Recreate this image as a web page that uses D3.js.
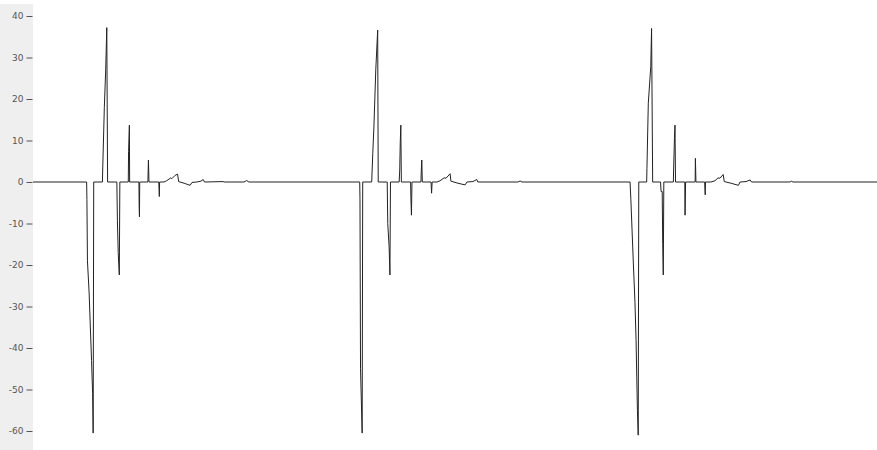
<!DOCTYPE html>
<html>
<head>
<meta charset="utf-8">
<script src="https://cdn.jsdelivr.net/npm/d3@7"></script>
<style>
  body { margin: 0; background: #fff; }
  .tick text { font-family: "DejaVu Sans", sans-serif; font-size: 9px; fill: #555; }
  .tick line { stroke: #555; }
</style>
</head>
<body>
<div id="chart"></div>
<script>
// signal, time in ms, amplitude in the axis units
var yTicks = [40, 30, 20, 10, 0, -10, -20, -30, -40, -50, -60];

var startTimes = [0, 197];
var startValues = [0, 0];

// first burst
var burst1Times = [198, 200, 206, 215, 219, 221, 223,
  255, 256, 262, 267, 271, 274,
  308, 310, 313, 317, 319,
  350, 351, 354, 355,
  389, 390, 391, 392,
  422, 424, 426,
  462, 464, 465,
  481, 491, 506, 510, 522, 531, 535, 555, 577, 584, 602, 617, 625, 630, 698, 702, 775, 785, 793];
var burst1Values = [-4.2, -19, -26.5, -43, -51, -60.5, 0,
  0, 2.9, 18, 27, 37.2, 0,
  0, -9.2, -17, -22.4, 0,
  0, 7.3, 13.7, 0,
  0, -6, -8.4, 0,
  0, 5.3, 0,
  0, -3.5, 0,
  0, 0.3, 1.0, 0.8, 1.6, 1.9, 0.1, -0.3, -0.8, -0.1, 0, 0.2, 0.6, 0, 0.1, 0, 0, 0.35, 0];

// second burst
var burst2Times = [1200, 1201, 1203, 1209, 1211,
  1244, 1248, 1252, 1259, 1266, 1268,
  1301, 1303, 1308, 1311, 1313,
  1345, 1347, 1349, 1351, 1353,
  1387, 1388, 1390, 1392,
  1425, 1426, 1428, 1430,
  1462, 1464, 1466,
  1484, 1495, 1510, 1517, 1532, 1535, 1561, 1587, 1594, 1616, 1630, 1634, 1781, 1789, 1796];
var burst2Values = [0, -4, -45, -60.5, 0,
  0, 6.9, 13, 27, 36.6, 0,
  0, -10, -15.6, -22.4, 0,
  0, 2.9, 9.7, 13.7, 0,
  0, -4, -8, 0,
  0, 2.5, 5.3, 0,
  0, -2.7, 0,
  0, 0.3, 1.0, 0.9, 2.0, 0.2, -0.3, -0.7, 0, 0.1, 0.6, 0, 0, 0.25, 0];

// third burst, running on to the right edge
var burst3Times = [2193, 2196, 2205, 2211, 2215, 2220, 2223, 2225,
  2254, 2255, 2260, 2269, 2272, 2276,
  2305, 2307, 2311, 2313, 2315, 2317,
  2352, 2353, 2356, 2358, 2360,
  2394, 2395, 2397,
  2432, 2433, 2435,
  2467, 2469, 2470,
  2490, 2505, 2516, 2523, 2535, 2539, 2564, 2591, 2597, 2619, 2634, 2639, 2780, 2787, 2791, 3100];
var burst3Values = [0, -4.3, -19.5, -29, -38, -55, -61, 0,
  0, 3.3, 19, 27.8, 37, 0,
  0, -2.3, -2.3, -15, -22.4, 0,
  0, 2.9, 10.5, 13.7, 0,
  0, -8, 0,
  0, 5.7, 0,
  0, -3.1, 0,
  0, 0.3, 1.0, 0.9, 1.8, 0.1, -0.3, -0.8, 0, 0.1, 0.5, 0, 0, 0.2, 0, 0];

var svgWidth = 877;
var svgHeight = 450;
var stripWidth = 33;

var times = [].concat(startTimes, burst1Times, burst2Times, burst3Times);
var values = [].concat(startValues, burst1Values, burst2Values, burst3Values);
var signal = times.map(function(t, i) { return { t: t, v: values[i] }; });

var svg = d3.select("#chart")
  .append("svg")
  .attr("width", svgWidth)
  .attr("height", svgHeight);

// grey band behind the axis
svg.append("rect")
  .attr("x", 0)
  .attr("y", 4)
  .attr("width", stripWidth)
  .attr("height", svgHeight - 4)
  .attr("fill", "#efefef");

var xScale = d3.scaleLinear()
  .domain([0, 3100])
  .range([stripWidth, svgWidth]);

var yScale = d3.scaleLinear()
  .domain([-60, 40])
  .range([431, 16]);

var leftAxis = d3.axisLeft(yScale)
  .tickValues(yTicks)
  .tickFormat(d => String(d))
  .tickSize(6)
  .tickPadding(3);

svg.append("g")
  .attr("transform", `translate(${stripWidth - 0.5}, 0)`)
  .call(leftAxis)
  .call(g => g.select(".domain").remove());

var line = d3.line()
  .x(d => xScale(d.t))
  .y(d => yScale(d.v));

svg.append("path")
  .datum(signal)
  .attr("fill", "none")
  .attr("stroke", "#222")
  .attr("stroke-width", 1)
  .attr("d", line);
</script>
</body>
</html>
